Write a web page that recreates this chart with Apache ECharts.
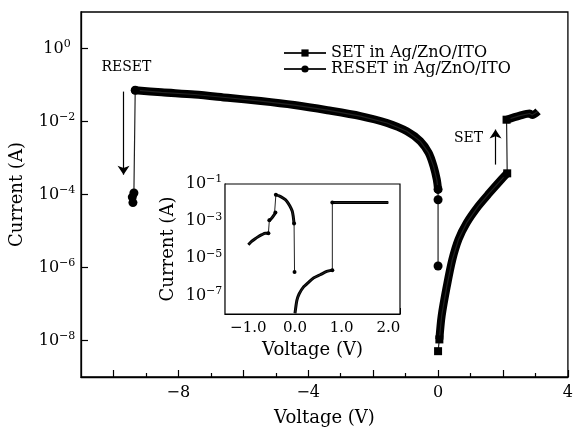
<!DOCTYPE html>
<html>
<head>
<meta charset="utf-8">
<script src="https://cdn.jsdelivr.net/npm/echarts@6/dist/echarts.min.js"></script>
<style>html,body{margin:0;padding:0;background:#fff}#c{width:576px;height:432px}</style>
</head>
<body>
<div id="c"></div>
<script>
// ---- Main plot data (Voltage V, Current A) ----
const setV   = [0.0, 0.04, 0.11, 0.27, 0.44, 0.63, 0.88, 1.24, 1.59, 1.95, 2.13, 2.11, 2.52, 2.82, 2.90, 3.08];
const setI   = [5.1e-9, 1.07e-8, 4.7e-8, 3.1e-7, 1.66e-6, 5.9e-6, 1.66e-5, 4.8e-5, 1.12e-4, 2.57e-4, 3.8e-4, 1.12e-2, 1.45e-2, 1.66e-2, 1.5e-2, 1.9e-2];
const setThin = [0, 10];           // segments i -> i+1 drawn as thin lines

const resetV = [-9.40, -9.42, -9.37, -9.33, -8.52, -7.50, -6.48, -5.46, -4.43, -3.41, -2.39, -1.57, -0.96, -0.55, -0.29, -0.14, -0.04, 0.0, 0.0, 0.0];
const resetI = [6.0e-5, 8.5e-5, 1.1e-4, 7.2e-2, 6.3e-2, 5.5e-2, 4.47e-2, 3.63e-2, 2.82e-2, 2.04e-2, 1.41e-2, 9.1e-3, 5.4e-3, 2.9e-3, 1.38e-3, 6.0e-4, 2.57e-4, 1.38e-4, 7.2e-5, 1.1e-6];
const resetThin = [0, 1, 2, 17, 18];

// ---- Inset data ----
const insetResetV = [-1.00, -0.93, -0.86, -0.79, -0.71, -0.64, -0.57, -0.55, -0.50, -0.44, -0.42, -0.41, -0.34, -0.25, -0.18, -0.11, -0.06, -0.04, -0.02, -0.01];
const insetResetI = [5.4e-5, 8.1e-5, 1.1e-4, 1.45e-4, 1.86e-4, 2.2e-4, 2.2e-4, 1.12e-3, 1.45e-3, 2.3e-3, 2.9e-3, 2.6e-2, 2.3e-2, 1.7e-2, 1.23e-2, 6.6e-3, 3.5e-3, 1.95e-3, 7.4e-4, 1.8e-6];
const insetResetThin = [6, 10, 18];
const insetSetV = [0.0, 0.04, 0.09, 0.18, 0.29, 0.39, 0.54, 0.68, 0.80, 0.80, 2.0];
const insetSetI = [1.1e-8, 5.4e-8, 1.23e-7, 2.8e-7, 5.1e-7, 8.5e-7, 1.3e-6, 1.95e-6, 2.3e-6, 1.0e-2, 1.0e-2];
const insetSetThin = [8];

// ---- Ticks / labels ----
const mainXMajorTicks = [-10, -8, -6, -4, -2, 0, 2, 4];
const mainXMinorTicks = [-9, -7, -5, -3, -1, 1, 3];
const mainXLabels = [-8, -4, 0, 4];
const mainYTicks = [1e-8, 1e-6, 1e-4, 1e-2, 1];
const insetYTicks = [1e-7, 1e-6, 1e-5, 1e-4, 1e-3, 1e-2];
const insetYLabels = [1e-1, 1e-3, 1e-5, 1e-7];
const insetXLabels = [-1, 0, 1, 2];

const FONT = 'DejaVu Serif';
// thin-line series: markers only at the ends of the thin (jump) segments
const pairs = (V, I, thin) => V.map((v, i) => {
  const marked = thin.includes(i) || thin.includes(i - 1);
  return marked ? [v, I[i]] : { value: [v, I[i]], symbol: 'none' };
});
const band = (V, I, thin) => {
  const out = [];
  V.forEach((v, i) => { out.push([v, I[i]]); if (thin.includes(i)) out.push(['-', '-']); });
  return out;
};
const minus = s => String(s).replace('-', '\u2212');
const powLabel = v => '{b|10}{s|' + minus(Math.round(Math.log10(v))) + '}';
const richSup = {
  b: { fontSize: 16, fontFamily: FONT, color: '#000' },
  s: { fontSize: 11, fontFamily: FONT, color: '#000', verticalAlign: 'top', padding: [0, 0, 9, 0] }
};
const nameStyle = { fontFamily: FONT, fontSize: 18, color: '#000' };

const chart = echarts.init(document.getElementById('c'), null, { renderer: 'canvas' });
const option = {
  animation: false,
  backgroundColor: '#fff',
  textStyle: { fontFamily: FONT, color: '#000' },
  grid: [
    { left: 81, top: 12, right: 4, bottom: 54, show: true, borderColor: '#000', borderWidth: 1.3 },
    { left: 225, top: 184, width: 175, height: 130, show: true, borderColor: '#000', borderWidth: 1.2, backgroundColor: '#fff', z: 5 }
  ],
  legend: {
    orient: 'vertical', left: 278, top: 40, itemWidth: 42, itemHeight: 9, itemGap: 0,
    textStyle: { fontFamily: FONT, fontSize: 16, color: '#000' },
    data: ['SET in Ag/ZnO/ITO', 'RESET in Ag/ZnO/ITO']
  },
  xAxis: [
    { type: 'value', gridIndex: 0, position: 'bottom', min: -11, max: 4,
      name: 'Voltage (V)', nameLocation: 'middle', nameGap: 32, nameTextStyle: nameStyle,
      axisLine: { onZero: false, lineStyle: { color: '#000', width: 1.3 } },
      axisTick: { inside: true, length: 7, lineStyle: { color: '#000', width: 1.2 }, customValues: mainXMajorTicks },
      axisLabel: { customValues: mainXLabels, formatter: v => minus(v), fontSize: 16, fontFamily: FONT, color: '#000', margin: 8 },
      splitLine: { show: false } },
    { type: 'value', gridIndex: 0, position: 'bottom', min: -11, max: 4,
      axisLine: { show: false, onZero: false },
      axisTick: { inside: true, length: 4, lineStyle: { color: '#000', width: 1.2 }, customValues: mainXMinorTicks },
      axisLabel: { show: false }, splitLine: { show: false } },
    { type: 'value', gridIndex: 1, position: 'bottom', min: -1.5, max: 2.25, interval: 0.25,
      name: 'Voltage (V)', nameLocation: 'middle', nameGap: 27, nameTextStyle: nameStyle,
      axisLine: { onZero: false, lineStyle: { color: '#000', width: 1.2 } },
      axisTick: { inside: true, length: 6, lineStyle: { color: '#000', width: 1 } },
      axisLabel: { customValues: insetXLabels, formatter: v => minus(v.toFixed(1)), fontSize: 15, fontFamily: FONT, color: '#000', margin: 7 },
      splitLine: { show: false } }
  ],
  yAxis: [
    { type: 'log', logBase: 10, gridIndex: 0, position: 'left', min: 1e-9, max: 10,
      name: 'Current (A)', nameLocation: 'middle', nameGap: 55, nameTextStyle: nameStyle,
      axisLine: { onZero: false, lineStyle: { color: '#000', width: 1.3 } },
      axisTick: { inside: true, length: 7, lineStyle: { color: '#000', width: 1.2 }, customValues: mainYTicks },
      axisLabel: { customValues: mainYTicks, formatter: powLabel, rich: richSup, align: 'center', margin: 24 },
      splitLine: { show: false }, minorTick: { show: false } },
    { type: 'log', logBase: 10, gridIndex: 1, position: 'left', min: 1e-8, max: 1e-1,
      name: 'Current (A)', nameLocation: 'middle', nameGap: 48, nameTextStyle: nameStyle,
      axisLine: { onZero: false, lineStyle: { color: '#000', width: 1.2 } },
      axisTick: { inside: true, length: 6, lineStyle: { color: '#000', width: 1 }, customValues: insetYTicks },
      axisLabel: { customValues: insetYLabels, formatter: powLabel, rich: richSup, align: 'center', margin: 21 },
      splitLine: { show: false }, minorTick: { show: false } }
  ],
  series: [
    { name: 'SET in Ag/ZnO/ITO', type: 'line', xAxisIndex: 0, yAxisIndex: 0, data: pairs(setV, setI, setThin),
      symbol: 'rect', symbolSize: 8, showAllSymbol: true,
      lineStyle: { color: '#222', width: 1.2 }, itemStyle: { color: '#000' }, z: 3 },
    { type: 'line', xAxisIndex: 0, yAxisIndex: 0, data: band(setV, setI, setThin), symbol: 'none', silent: true,
      smooth: 0.3, connectNulls: false, lineStyle: { color: '#000', width: 8, cap: 'butt', join: 'round' }, z: 2 },
    { name: 'RESET in Ag/ZnO/ITO', type: 'line', xAxisIndex: 0, yAxisIndex: 0, data: pairs(resetV, resetI, resetThin),
      symbol: 'circle', symbolSize: 9, showAllSymbol: true,
      lineStyle: { color: '#222', width: 1.2 }, itemStyle: { color: '#000' }, z: 3 },
    { type: 'line', xAxisIndex: 0, yAxisIndex: 0, data: band(resetV, resetI, resetThin), symbol: 'none', silent: true,
      smooth: 0.3, connectNulls: false, lineStyle: { color: '#000', width: 8, cap: 'round', join: 'round' }, z: 2,
      markLine: {
        silent: true, symbol: ['none', 'arrow'], symbolSize: 9, animation: false,
        lineStyle: { color: '#000', width: 1.2, type: 'solid' }, label: { show: false },
        data: [
          [{ coord: [-9.69, 0.066] }, { coord: [-9.69, 3.5e-4] }],
          [{ coord: [1.77, 6.6e-4] }, { coord: [1.77, 6.0e-3] }]
        ]
      },
      markPoint: {
        silent: true, symbol: 'circle', symbolSize: 1, itemStyle: { color: 'rgba(0,0,0,0)' },
        label: { show: true, position: 'inside', formatter: '{b}', fontFamily: FONT, fontSize: 14, color: '#000' },
        data: [
          { name: 'RESET', coord: [-9.6, 0.30] },
          { name: 'SET', coord: [0.94, 3.4e-3] }
        ]
      } },
    { name: 'insetReset', type: 'line', xAxisIndex: 2, yAxisIndex: 1, data: pairs(insetResetV, insetResetI, insetResetThin),
      symbol: 'circle', symbolSize: 4, showAllSymbol: true,
      lineStyle: { color: '#222', width: 1 }, itemStyle: { color: '#000' }, z: 8 },
    { type: 'line', xAxisIndex: 2, yAxisIndex: 1, data: band(insetResetV, insetResetI, insetResetThin), symbol: 'none', silent: true,
      smooth: 0.2, connectNulls: false, lineStyle: { color: '#000', width: 3, join: 'round' }, z: 7 },
    { name: 'insetSet', type: 'line', xAxisIndex: 2, yAxisIndex: 1, data: pairs(insetSetV, insetSetI, insetSetThin),
      symbol: 'circle', symbolSize: 4, showAllSymbol: true,
      lineStyle: { color: '#222', width: 1 }, itemStyle: { color: '#000' }, z: 8 },
    { type: 'line', xAxisIndex: 2, yAxisIndex: 1, data: band(insetSetV, insetSetI, insetSetThin), symbol: 'none', silent: true,
      smooth: 0.2, connectNulls: false, lineStyle: { color: '#000', width: 3, join: 'round' }, z: 7 }
  ]
};
chart.setOption(option);
</script>
</body>
</html>
